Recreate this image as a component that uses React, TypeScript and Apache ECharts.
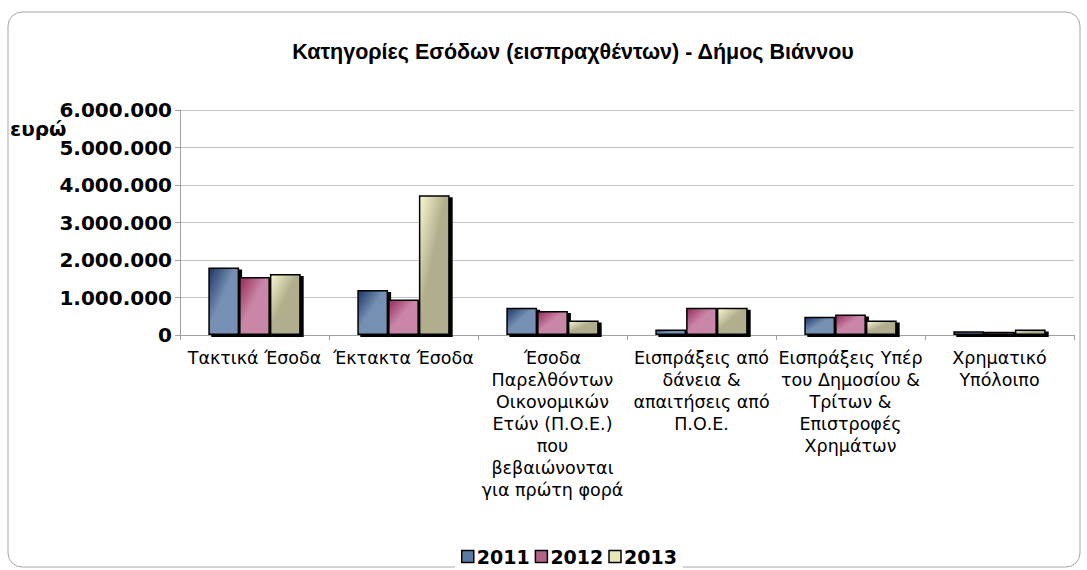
import React, { useEffect, useRef } from "react";
import * as echarts from "echarts";

const categories = [
  "Τακτικά Έσοδα",
  "Έκτακτα Έσοδα",
  "Έσοδα\nΠαρελθόντων\nΟικονομικών\nΕτών (Π.Ο.Ε.)\nπου\nβεβαιώνονται\nγια πρώτη φορά",
  "Εισπράξεις από\nδάνεια &\nαπαιτήσεις από\nΠ.Ο.Ε.",
  "Εισπράξεις Υπέρ\nτου Δημοσίου &\nΤρίτων &\nΕπιστροφές\nΧρημάτων",
  "Χρηματικό\nΥπόλοιπο",
];
const seriesNames = ["2011", "2012", "2013"];
const values2011 = [1800000, 1200000, 730000, 150000, 490000, 100000];
const values2012 = [1550000, 950000, 640000, 730000, 550000, 90000];
const values2013 = [1630000, 3730000, 390000, 730000, 390000, 150000];
const yTicks = [0, 1000000, 2000000, 3000000, 4000000, 5000000, 6000000];

const grad = (c1: string, c2: string) =>
  new echarts.graphic.LinearGradient(0, 0, 1, 1, [
    { offset: 0, color: c1 },
    { offset: 0.45, color: c2 },
    { offset: 1, color: c2 },
  ]);

const fmt = (v: number) =>
  v === 0 ? "0" : Math.round(v).toString().replace(/\B(?=(\d{3})+(?!\d))/g, ".");

const VERD = "DejaVu Sans, Verdana, sans-serif";

export default function App() {
  const ref = useRef<HTMLDivElement>(null);
  useEffect(() => {
    const chart = echarts.init(ref.current!, null, { renderer: "svg" });
    const colors = [
      grad("#1d3566", "#7590b2"),
      grad("#952a58", "#c986a6"),
      grad("#fbf9d2", "#b0ae8c"),
    ];
    const legendColors = ["#5a7aa4", "#b3628a", "#e8e6b8"];
    const data = [values2011, values2012, values2013];
    chart.setOption({
      animation: false,
      backgroundColor: "#ffffff",
      title: {
        text: "Κατηγορίες Εσόδων (εισπραχθέντων) - Δήμος Βιάννου",
        left: 568,
        top: 36,
        textAlign: "center",
        textStyle: {
          fontFamily: "Liberation Sans, Arial, sans-serif",
          fontSize: 21.5,
          fontWeight: "bold",
          color: "#000",
        },
      },
      graphic: [
        {
          type: "rect",
          shape: { x: 8, y: 12, width: 1072, height: 555, r: 14 },
          style: { fill: "none", stroke: "#a6a6a6", lineWidth: 1 },
          z: -1,
        },
        {
          type: "text",
          left: 10,
          top: 119,
          style: {
            text: "ευρώ",
            fontFamily: VERD,
            fontSize: 20,
            fontWeight: "bold",
            fill: "#000",
          },
        },
      ],
      legend: {
        bottom: 2,
        left: 455,
        itemWidth: 12,
        itemHeight: 12,
        itemGap: 5,
        backgroundColor: "#ffffff",
        padding: [2, 6, 2, 6],
        textStyle: {
          fontFamily: VERD,
          fontSize: 19,
          fontWeight: "bold",
          color: "#000",
          padding: [0, 0, 0, -2],
        },
        data: seriesNames.map((n, i) => ({
          name: n,
          icon: "rect",
          itemStyle: { color: legendColors[i], borderColor: "#000", borderWidth: 1.5 },
        })),
      },
      grid: { left: 180, right: 13, top: 110, bottom: 235, containLabel: false },
      xAxis: {
        type: "category",
        data: categories,
        axisLine: { lineStyle: { color: "#a0a0a0" } },
        axisTick: { show: true, alignWithLabel: false, lineStyle: { color: "#a0a0a0" } },
        axisLabel: {
          interval: 0,
          margin: 12,
          fontFamily: VERD,
          fontSize: 17.5,
          lineHeight: 22,
          color: "#000",
        },
      },
      yAxis: {
        type: "value",
        min: yTicks[0],
        max: yTicks[yTicks.length - 1],
        interval: 1000000,
        axisLine: { show: true, lineStyle: { color: "#a0a0a0" } },
        axisTick: { show: true, length: 5, lineStyle: { color: "#a0a0a0" } },
        splitLine: { lineStyle: { color: "#c4c4c4", width: 1 } },
        axisLabel: {
          formatter: (v: number) => fmt(v),
          margin: 8,
          fontFamily: VERD,
          fontSize: 20,
          fontWeight: "bold",
          color: "#000",
        },
      },
      series: seriesNames.map((n, i) => ({
        name: n,
        type: "bar",
        data: data[i],
        barGap: "0%",
        barCategoryGap: "38%",
        itemStyle: {
          color: colors[i],
          borderColor: "#000",
          borderWidth: 1.5,
          shadowColor: "rgba(0,0,0,1)",
          shadowOffsetX: 3,
          shadowOffsetY: 2,
          shadowBlur: 0,
        },
      })),
    });
    return () => chart.dispose();
  }, []);
  return (
    <div
      ref={ref}
      style={{ position: "absolute", left: 0, top: 0, width: 1087, height: 570 }}
    />
  );
}
